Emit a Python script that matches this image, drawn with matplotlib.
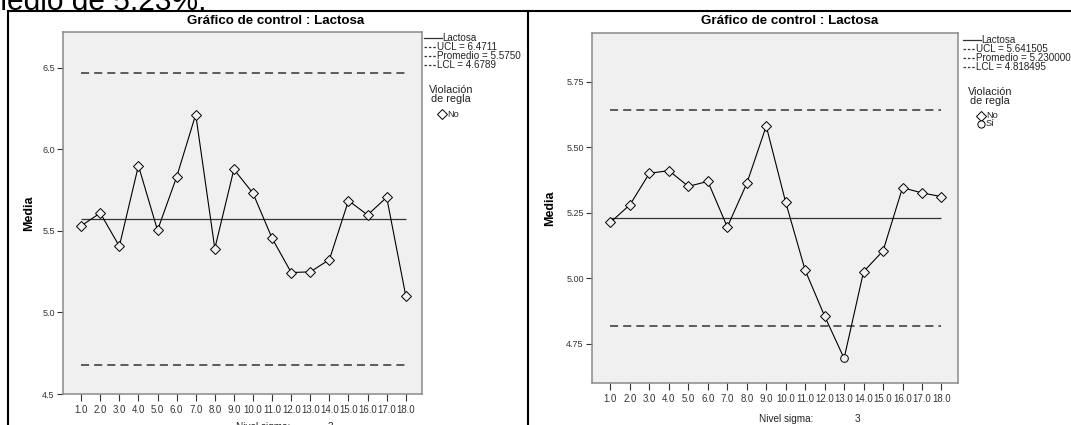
import numpy as np
import matplotlib
matplotlib.use("Agg")
import matplotlib.pyplot as plt
from matplotlib.lines import Line2D

plt.rcParams['font.family'] = ['Liberation Sans', 'DejaVu Sans']

# datos
nivel = ['1.0', '2.0', '3.0', '4.0', '5.0', '6.0', '7.0', '8.0', '9.0',
         '10.0', '11.0', '12.0', '13.0', '14.0', '15.0', '16.0', '17.0', '18.0']
media_izq = [5.531, 5.610, 5.406, 5.900, 5.504, 5.831, 6.214, 5.392, 5.878,
             5.731, 5.455, 5.245, 5.249, 5.324, 5.686, 5.598, 5.706, 5.102]
media_der = [5.213, 5.280, 5.400, 5.410, 5.350, 5.369, 5.195, 5.361, 5.580,
             5.289, 5.030, 4.855, 4.694, 5.025, 5.104, 5.345, 5.325, 5.311]
violacion_der = [False]*12 + [True] + [False]*5

lim_izq = {'UCL': 6.4711, 'Promedio': 5.5750, 'LCL': 4.6789}
lim_der = {'UCL': 5.641505, 'Promedio': 5.230000, 'LCL': 4.818495}
txt_izq = ['6.4711', '5.5750', '4.6789']
txt_der = ['5.641505', '5.230000', '4.818495']

W, H = 1071, 425
fig = plt.figure(figsize=(W/100, H/100), dpi=100)

def box(l, t, r, b):
    return [l/W, 1-b/H, (r-l)/W, (b-t)/H]

def fx(x):
    return x/W

def fy(y):
    return 1-y/H

# texto del documento (cortado arriba)
fig.text(fx(206), fy(10), 'medio de 5.23%.', ha='right', va='baseline', fontsize=21.5)

# bordes de la tabla
for xs, ys in [([8, W], [11, 11]), ([8, 8], [11, H]), ([528, 528], [11, H])]:
    fig.add_artist(Line2D([fx(x) for x in xs], [fy(y) for y in ys], color='black', lw=1.5))

bg = '#f0f0f0'
frame = '#8a8a8a'
dash = (0, (5.3, 3.3))

def control(ax, vals, lims, viol, ylim, yticks, yfmt):
    x = np.arange(1, len(vals)+1)
    ax.set_facecolor(bg)
    ax.hlines([lims['UCL'], lims['LCL']], x[0], x[-1], colors='#333333', lw=1.1, linestyles=dash)
    ax.hlines(lims['Promedio'], x[0], x[-1], colors='#333333', lw=0.9)
    ax.plot(x, vals, color='black', lw=0.8, zorder=3)
    v = np.array(vals)
    m = np.array(viol)
    ax.plot(x[~m], v[~m], ls='none', marker='D', ms=5.2, mfc=bg, mec='black', mew=0.7, zorder=4)
    if m.any():
        ax.plot(x[m], v[m], ls='none', marker='o', ms=5.5, mfc=bg, mec='black', mew=0.7, zorder=4)
    ax.set_xlim(0.05, 18.85)
    ax.set_ylim(*ylim)
    ax.set_xticks(x)
    ax.set_xticklabels(nivel)
    ax.set_yticks(yticks)
    ax.set_yticklabels([yfmt.format(t) for t in yticks])
    ax.tick_params(labelsize=6.5, colors='#333333', length=4, width=0.8, pad=2)
    ax.tick_params(axis='x', labelsize=6.9, length=5, pad=3)
    for s in ax.spines.values():
        s.set_color(frame)
        s.set_linewidth(1.1)

def leyenda(x0, y0, labels, si, hl=18):
    # bloque de leyenda dibujado a mano (filas de 9 px como en SPSS)
    rows = ['Lactosa', 'UCL = ' + labels[0], 'Promedio = ' + labels[1], 'LCL = ' + labels[2]]
    for i, r in enumerate(rows):
        y = y0 + 9*i
        if i == 0:
            fig.add_artist(Line2D([fx(x0), fx(x0+hl)], [fy(y)]*2, color='#333333', lw=0.9))
            tx = x0 + hl
        else:
            fig.add_artist(Line2D([fx(x0), fx(x0+12)], [fy(y)]*2, color='#333333', lw=0.9,
                                  ls=(0, (2, 1.5))))
            tx = x0 + 13
        fig.text(fx(tx), fy(y), r, ha='left', va='center', fontsize=7.1, color='#222222')
    fig.text(fx(x0+27), fy(y0+52), 'Violación', ha='center', va='center', fontsize=7.8, color='#222222')
    fig.text(fx(x0+27), fy(y0+61), 'de regla', ha='center', va='center', fontsize=7.8, color='#222222')
    items = [('D', 'No', 4.6)]
    if si:
        items.append(('o', 'Sí', 5.2))
    for j, (mk, t, ms) in enumerate(items):
        y = y0 + 76 + 8*j
        fig.add_artist(Line2D([fx(x0+18)], [fy(y)], ls='none', marker=mk, ms=ms, mfc='white',
                              mec='black', mew=0.7))
        fig.text(fx(x0+23), fy(y), t, ha='left', va='center', fontsize=6.6, color='#222222')

ax1 = fig.add_axes(box(63, 32, 422, 394))
control(ax1, media_izq, lim_izq, [False]*18, (4.5, 6.72), [4.5, 5.0, 5.5, 6.0, 6.5], '{:.1f}')
ax2 = fig.add_axes(box(592, 33, 958, 383))
control(ax2, media_der, lim_der, violacion_der, (4.60, 5.935), [4.75, 5.00, 5.25, 5.50, 5.75], '{:.2f}')

leyenda(424, 38, txt_izq, False)
leyenda(963, 40, txt_der, True)

for cx in (276, 790):
    fig.text(fx(cx), fy(21), 'Gráfico de control : Lactosa', ha='center', va='center',
             fontsize=9.6, fontweight='bold')

fig.text(fx(29), fy(213), 'Media', rotation=90, ha='center', va='center', fontsize=9, fontweight='bold')
fig.text(fx(550), fy(208), 'Media', rotation=90, ha='center', va='center', fontsize=9, fontweight='bold')

# etiqueta inferior
fig.text(fx(263), fy(427), 'Nivel sigma:', ha='center', va='center', fontsize=7.2, color='#222222')
fig.text(fx(330), fy(427), '3', ha='center', va='center', fontsize=7.2, color='#222222')
fig.text(fx(786), fy(419), 'Nivel sigma:', ha='center', va='center', fontsize=7.2, color='#222222')
fig.text(fx(857), fy(419), '3', ha='center', va='center', fontsize=7.2, color='#222222')

fig.savefig('out.png', dpi=100)
